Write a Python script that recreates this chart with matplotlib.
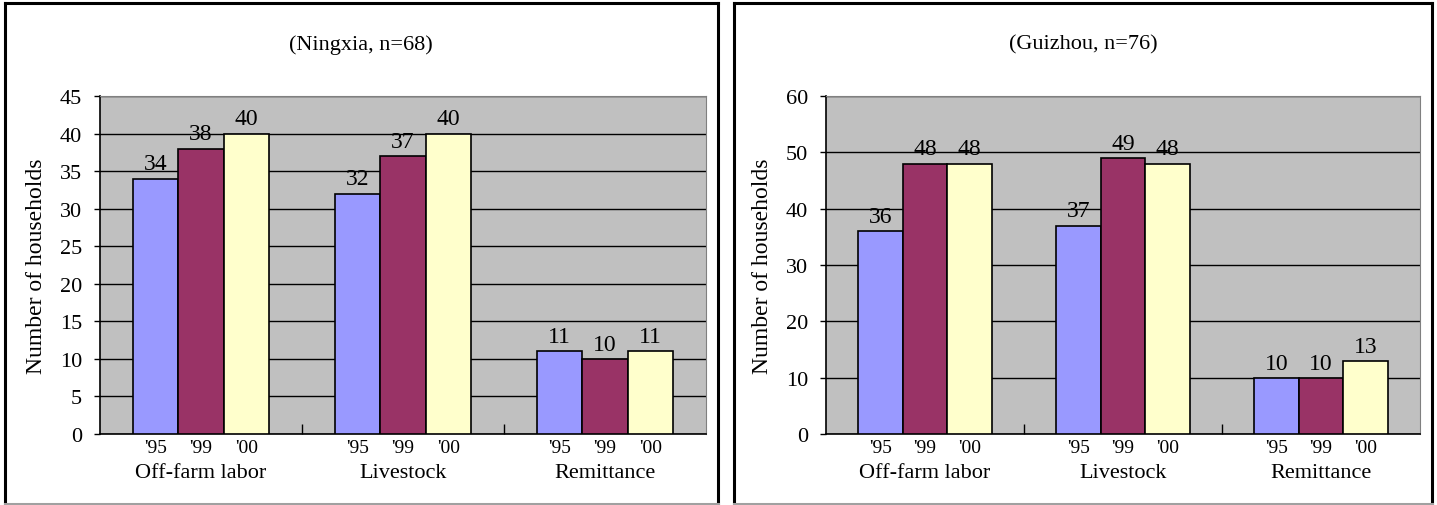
import matplotlib
matplotlib.use("Agg")
import matplotlib.pyplot as plt
from matplotlib.lines import Line2D
import numpy as np

plt.rcParams["font.family"] = ["Liberation Serif", "DejaVu Serif"]

# ── data ─────────────────────────────────────────────────────────────────────
categories = ["Off-farm labor", "Livestock", "Remittance"]
years = ["'95", "'99", "'00"]
colors = ["#9999FF", "#993366", "#FFFFCC"]

ningxia = {"'95": [34, 32, 11], "'99": [38, 37, 10], "'00": [40, 40, 11]}
guizhou = {"'95": [36, 37, 10], "'99": [48, 49, 10], "'00": [48, 48, 13]}

W, H = 1437, 506
fig = plt.figure(figsize=(W / 100, H / 100), dpi=100)


def px_box(x0, y0, x1, y1):
    """pixel box (top-left origin) -> figure fraction rect"""
    return [x0 / W, 1 - y1 / H, (x1 - x0) / W, (y1 - y0) / H]


def frame(x0, x1, y0=4, y1=505):
    fx0, fx1 = x0 / W, x1 / W
    fy0, fy1 = 1 - y1 / H, 1 - y0 / H
    for xs, ys, c in [([fx0, fx0], [fy0, fy1], "black"),
                      ([fx1, fx1], [fy0, fy1], "black"),
                      ([fx0, fx1], [fy1, fy1], "black"),
                      ([fx0, fx1], [fy0, fy0], "#A0A0A0")]:
        fig.add_artist(Line2D(xs, ys, color=c, lw=2.2, transform=fig.transFigure))


def panel(rect, data, title, ymax, ystep, title_x):
    ax = fig.add_axes(rect)
    x = np.arange(len(categories))
    w = 0.225
    for i, (yr, c) in enumerate(zip(years, colors)):
        vals = data[yr]
        pos = x + (i - 1) * w
        bars = ax.bar(pos, vals, w, color=c, edgecolor="black", lw=1.2, zorder=3)
        for b, v in zip(bars, vals):
            ax.annotate(str(v), (b.get_x() + b.get_width() / 2, v),
                        xytext=(0, 3), textcoords="offset points",
                        ha="center", va="bottom", fontsize=17)
        for p in pos:
            ax.annotate(yr, (p, 0), xycoords=("data", "axes fraction"),
                        xytext=(0, -9.5), textcoords="offset points",
                        ha="center", va="center", fontsize=14)
    for xi, cat in zip(x, categories):
        ax.annotate(cat, (xi, 0), xycoords=("data", "axes fraction"),
                    xytext=(0, -27.5), textcoords="offset points",
                    ha="center", va="center", fontsize=16)

    ax.set_xlim(-0.5, len(categories) - 0.5)
    ax.set_ylim(0, ymax)
    ax.set_yticks(np.arange(0, ymax + 1, ystep))
    ax.tick_params(axis="y", labelsize=16, direction="out", length=4, width=1, pad=9)
    ax.set_xticks([])
    ax.set_xticks(np.arange(0.5, len(categories) - 1), minor=True)
    ax.tick_params(axis="x", which="minor", direction="in", length=7, width=1)
    ax.set_facecolor("#C0C0C0")
    ax.yaxis.grid(True, color="black", lw=1)
    ax.set_axisbelow(True)
    for s in ("top", "right"):
        ax.spines[s].set_color("#808080")
    for s in ("left", "bottom"):
        ax.spines[s].set_color("black")
        ax.spines[s].set_linewidth(1.2)
    ax.set_ylabel("Number of households", fontsize=17, labelpad=9)
    fig.text(title_x / W, 1 - 45 / H, title, ha="center", va="center", fontsize=16)
    return ax


panel(px_box(100, 97, 706, 435), ningxia, "(Ningxia, n=68)", 45, 5, 361)
panel(px_box(826, 97, 1420, 435), guizhou, "(Guizhou, n=76)", 60, 10, 1083)

frame(5, 718)
frame(734, 1432)

fig.savefig("out.png", dpi=100)
